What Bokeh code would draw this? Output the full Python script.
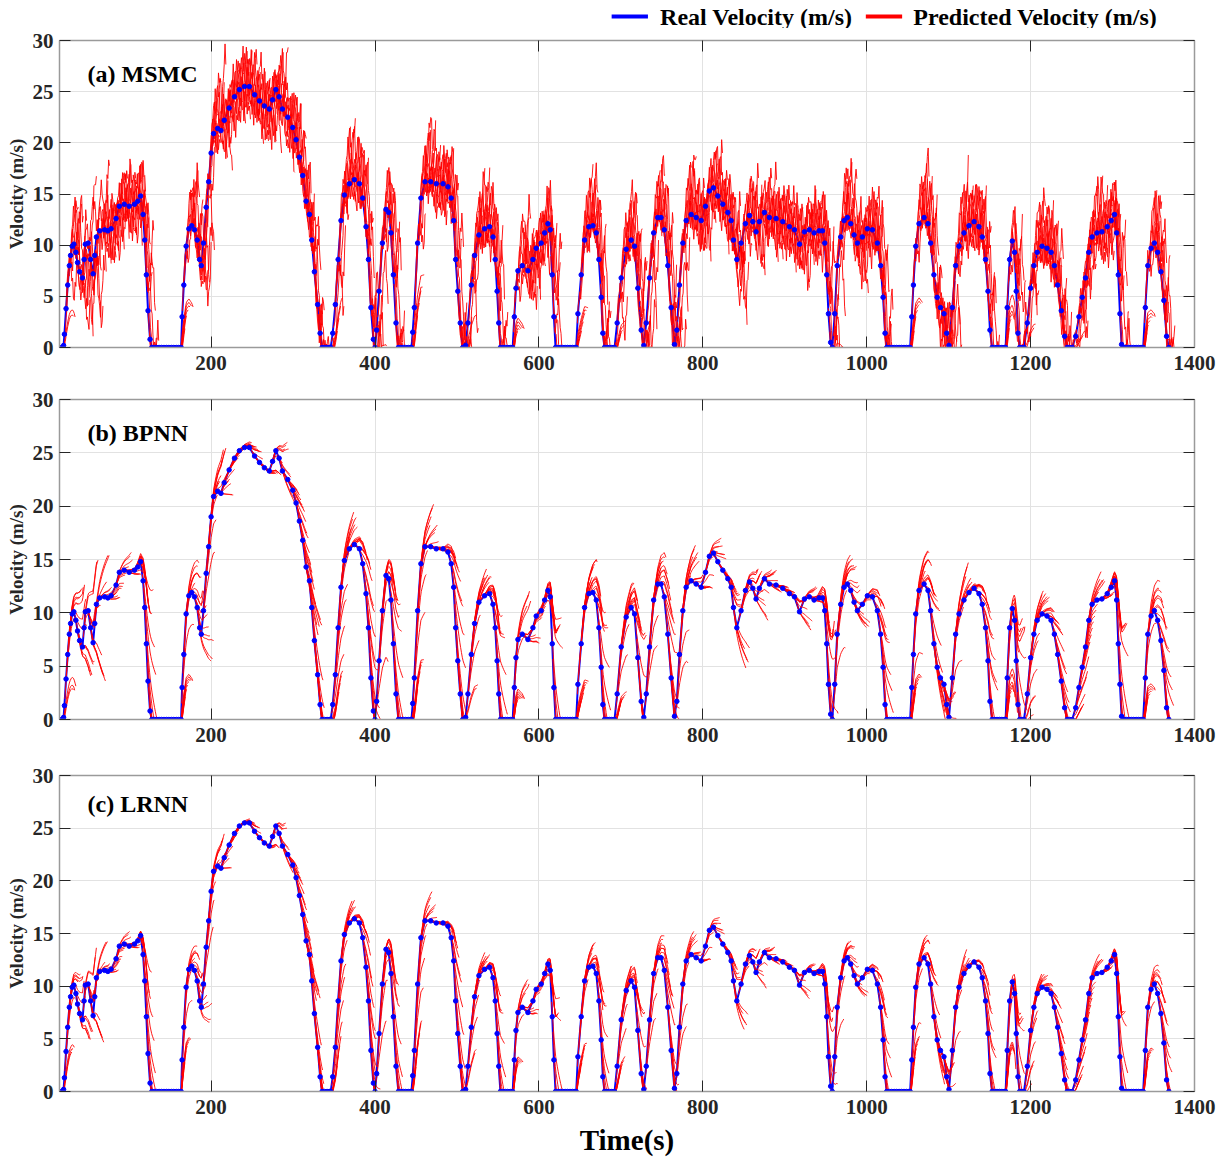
import numpy as np
from bokeh.plotting import figure
from bokeh.layouts import column
from bokeh.models import Range1d, LinearAxis, Label, FixedTicker
from bokeh.core.properties import value
from bokeh.embed import file_html
from bokeh.resources import INLINE

# ---------------- data ----------------
time_s = [15, 18, 20, 21, 23, 25, 27, 28.5, 30.5, 32.5, 35, 37, 39.5, 43, 45, 46.5, 50, 53, 56, 58,
          60, 64, 70, 74, 78, 84, 88, 94, 100, 106.5, 110.5, 114, 117, 119, 121, 123, 125.5, 127.6,
          130.5, 133.5, 136.5, 139.5, 142.5, 145.5, 148.5, 151.5, 154.5, 157.5, 160.5, 163.4,
          164.6, 166.7, 169.5, 172.8, 176.4, 179.7, 183, 186, 188, 190.7, 194, 197, 200, 203, 208,
          212, 216, 222, 228.5, 234.5, 240.7, 246.7, 253, 259, 265, 271, 275, 279, 283, 287, 293.5,
          299.6, 303.7, 307.7, 311.8, 315.9, 320, 322.8, 326, 330, 333, 335.4, 338.5, 341.5, 344.5, 346,
          348.4, 351.6, 355, 358.5, 362.6, 368.7, 374.8, 381, 385, 389, 392, 395, 398, 400, 402, 405,
          409, 413.4, 416.7, 419.5, 422.4, 425.6, 428.5, 431.5, 434.5, 437.5, 440.5, 443.5, 444.5,
          446, 448, 452, 456, 461, 468, 474.8, 483, 489, 493, 496, 498.4, 501, 504, 507, 510.6,
          513.4, 517.5, 521.5, 526.8, 533.7, 539.8, 544, 546.7, 549, 551, 553, 556, 559, 562, 565,
          568, 570, 572, 574.4, 579.7, 586.6, 592.7, 596.7, 602.8, 607, 611, 613.8, 616.3, 618.3,
          620.3, 623, 626, 629, 632, 635, 638, 641, 644, 645.5, 647.6, 651.6, 655.7, 661, 665.9,
          670, 673.2, 676, 678, 680, 683, 686, 689, 692.3, 695.5, 700.4, 706.5, 712.6, 716.7, 720.7,
          724.8, 728, 731, 735, 740, 745, 749, 753, 757.3, 761.4, 765.4, 768.3, 771.5, 775.6, 779.7,
          785.8, 791.9, 798, 803.3, 808, 813, 818.3, 824.4, 830.5, 834.6, 837.4, 841.5, 846.7, 852,
          857, 861, 865, 869, 875.2, 881.3, 889.4, 897.6, 905.7, 911.8, 918, 924, 930, 935.8, 941.9,
          946, 948.8, 951.2, 953.3, 956, 958, 961, 964, 968.3, 972.4, 976.4, 980.5, 984.6, 988.6,
          994.7, 1000.8, 1007, 1013, 1017, 1020, 1022.4, 1024.4, 1027.5, 1030.5, 1033.5, 1036.5,
          1039.5, 1042.5, 1045.5, 1048.5, 1051.5, 1053, 1055, 1057, 1059.8, 1063.8, 1070, 1074.8,
          1078, 1082, 1086, 1090, 1094.3, 1097.6, 1100.4, 1104.5, 1108.5, 1112.6, 1118.7, 1124.8,
          1131, 1137, 1141, 1145, 1148, 1150.4, 1153, 1156, 1159, 1162, 1165, 1168, 1169.5, 1171.5,
          1174.4, 1177.6, 1180.5, 1182.5, 1184.6, 1186.6, 1189.5, 1192, 1196, 1200, 1204, 1208,
          1214, 1220, 1225, 1229, 1233, 1237.4, 1241.5, 1244.7, 1247.7, 1250.8, 1255, 1259, 1263,
          1267, 1271, 1275, 1281, 1287, 1293.5, 1298.4, 1302.4, 1305, 1307, 1309, 1311, 1313.8,
          1316.8, 1319.8, 1322.8, 1325.8, 1328.8, 1331.8, 1334.8, 1337.4, 1340, 1343, 1347, 1351,
          1355, 1359, 1362.6, 1365.9, 1368.7]

real_velocity = [0, 0, 0.2, 1.3, 3.8, 6.1, 8.0, 9.0, 9.9, 10.1, 9.3, 8.3, 7.4, 6.8, 8.6, 10.1, 10.2, 8.6, 7.2, 9.0,
                 10.8, 11.4, 11.5, 11.4, 11.6, 12.6, 13.8, 14.0, 13.8, 14.0, 14.3, 14.8, 13.0, 10.5, 7.1, 3.6, 0.8, 0,
                 0, 0, 0, 0, 0, 0, 0, 0, 0, 0, 0, 0,
                 3.0, 6.1, 9.9, 11.6, 11.9, 11.5, 10.5, 8.6, 8.0, 10.2, 13.7, 16.2, 19.0, 20.9, 21.4,
                 21.2, 22.2, 23.4, 24.5, 25.2, 25.5, 25.5, 24.7, 24.1, 23.6, 23.3, 24.2, 25.2, 24.5, 23.3, 22.5,
                 21.5, 20.3, 18.6, 16.8, 14.3, 13.0, 10.5, 7.4, 4.2, 1.4, 0, 0, 0, 0, 0,
                 1.4, 4.2, 8.6, 12.4, 14.9, 16.0, 16.4, 16.0, 14.6, 11.8, 8.6, 3.9, 0.8, 0, 1.7, 5.5,
                 10.2, 13.5, 13.2, 11.2, 7.1, 2.4, 0, 0, 0, 0, 0, 0, 0,
                 1.5, 3.9, 10.2, 14.6, 16.2, 16.2, 16.0, 16.0, 15.7, 14.6, 12.4, 8.6, 5.5, 2.4, 0, 0.2,
                 2.4, 6.1, 9.0, 11.0, 11.6, 11.8, 10.8, 8.6, 5.5, 2.4, 0, 0, 0, 0, 0,
                 0, 3.0, 5.8, 7.5, 8.0, 7.5, 8.6, 9.7, 10.2, 11.2, 12.1, 11.5, 7.1, 3.0,
                 0, 0, 0, 0, 0, 0, 0, 0, 0, 0, 3.3, 7.1, 10.5, 11.8, 11.9,
                 11.2, 8.6, 4.9, 1.4, 0, 0, 0, 0, 0, 2.4, 6.8, 9.6, 10.5, 9.9, 5.8,
                 1.7, 0.2, 2.4, 6.8, 11.2, 12.7, 12.7, 11.5, 8.0, 3.9, 0.3, 1.7, 6.1, 10.2, 12.4,
                 13.0, 12.7, 12.4, 13.8, 15.3, 15.6, 14.8, 14.0, 13.2, 12.4, 10.5, 8.6, 10.2, 12.1,
                 12.9, 12.3, 11.3, 12.3, 13.2, 12.7, 12.6, 12.3, 11.8, 11.5, 10.1, 11.3, 11.5, 11.2, 11.4,
                 11.4, 10.2, 7.1, 3.3, 0.5, 0, 3.3, 8.0, 10.8, 12.4, 12.7, 12.1, 11.0, 10.2,
                 10.8, 11.6, 11.5, 10.2, 8.0, 4.9, 1.4, 0, 0, 0, 0, 0,
                 0, 0, 0, 0, 0, 0, 3.0, 6.1, 9.9, 12.1, 12.7, 12.1,
                 10.2, 7.1, 4.9, 3.9, 3.3, 1.4, 0.2, 3.9, 8.0, 9.9, 11.2, 11.9,
                 12.3, 11.8, 10.8, 8.6, 5.5, 1.7, 0, 0, 0, 0, 0, 0, 0, 3.9,
                 8.6, 10.4, 9.3, 5.5, 1.4, 0, 0, 0, 2.4, 5.8, 8.0, 9.3,
                 9.9, 9.7, 9.3, 8.0, 6.1, 3.6, 1.1, 0, 0, 0, 1.1, 3.0, 4.9,
                 6.8, 9.3, 10.8, 11.2, 11.3, 11.8, 12.4, 13.0, 11.2, 7.1, 3.3, 0.3, 0,
                 0, 0, 0, 0, 0, 0, 0, 0, 3.9, 8.0, 9.7, 10.2,
                 9.3, 7.4, 4.6, 1.1, 0]

x_ticks = [200, 400, 600, 800, 1000, 1200, 1400]
y_ticks = [0, 5, 10, 15, 20, 25, 30]
panel_titles = ["(a) MSMC", "(b) BPNN", "(c) LRNN"]
legend_labels = ["Real Velocity (m/s)", "Predicted Velocity (m/s)"]
legend_colors = ["#0000ff", "#ff0000"]
y_label = "Velocity (m/s)"
x_label = "Time(s)"

# prediction model settings per method
method_settings = [
    dict(step=2.0, horizon=15, w_up=0.45, w_dn=0.6, gain=0.6, emax=0.3, up_max=1.0, up_t0=6.0,
         dn_max=0.8, dn_t0=12.0, wobble=0.85),
    dict(step=1.5, horizon=15, w_up=0.5, w_dn=0.8, gain=0.5, emax=0.3, up_max=1.0, up_t0=6.0,
         dn_max=1.0, dn_t0=15.0, wobble=0.0),
    dict(step=1.5, horizon=13, w_up=0.45, w_dn=0.75, gain=0.4, emax=0.22, up_max=0.9, up_t0=5.0,
         dn_max=0.9, dn_t0=13.0, wobble=0.0),
]

T = np.array(time_s, dtype=float)
V = np.array(real_velocity, dtype=float)


def real_at(x):
    return np.interp(x, T, V)


def predicted_segments(step, horizon, w_up, w_dn, gain, emax, up_max, up_t0, dn_max, dn_t0, wobble):
    xs, ys = [], []
    starts = np.arange(T[0] + 2, T[-1], step)
    for m, s in enumerate(starts):
        tau = np.arange(0, horizon + 0.01, 1.0)
        tt = s + tau
        keep = tt <= T[-1] + 10
        tau, tt = tau[keep], tt[keep]
        v0 = real_at(s)
        sb = (v0 - real_at(s - 2)) / 2.0
        sf = (real_at(s + horizon) - v0) / horizon
        e = np.clip(gain * (sb - sf), -emax, emax)
        follow = real_at(tt) + e * tau
        if sb >= 0:
            trend = v0 + min(sb, up_max) * up_t0 * (1 - np.exp(-tau / up_t0))
            w = w_up
        else:
            trend = v0 + max(sb, -dn_max) * dn_t0 * (1 - np.exp(-tau / dn_t0))
            w = w_dn
        pred = (1 - w) * follow + w * trend
        if wobble and v0 > 0.5:
            pred = pred + wobble * (np.sin(0.55 * tau + 2.3 * m) + 0.3 * np.sin(2.3 * tau + 1.7 * m)) * np.sqrt(tau)
        pred = np.clip(pred, 0, None)
        xs.append(list(tt))
        ys.append(list(pred))
    return xs, ys


FONT = "Liberation Serif"
TXT = "#262626"
W = 1219
FRAME_L = 59
FRAME_W = 1135
heights = [352, 375, 403]
tops = [12, 19, 20]
bottoms = [33, 36, 62]
frame_h = [307, 320, 321]

# legend strip above panel (a): pixel-unit canvas
LG_H = 28
lg = figure(width=W, height=LG_H, x_range=Range1d(0, W), y_range=Range1d(0, LG_H),
            output_backend="svg", toolbar_location=None, x_axis_type=None, y_axis_type=None,
            min_border_left=0, min_border_right=0, min_border_top=0, min_border_bottom=0)
lg.outline_line_color = None
lg.grid.visible = False
legend_glyph_x = [(593, 632), (866, 905)]
legend_text_x = [645, 917]
for (x0, x1), tx, lab, col in zip(legend_glyph_x, legend_text_x, legend_labels, legend_colors):
    lg.line([x0, x1], [LG_H - 16, LG_H - 16], line_color=col, line_width=4)
    lg.text(x=[tx], y=[LG_H - 16], text=[lab], text_font=value(FONT), text_font_style="bold",
            text_font_size="24px", text_color="black", text_baseline="middle", text_align="left")

panels = [lg]
for k in range(3):
    p = figure(width=W, height=heights[k], x_range=Range1d(15, 1400), y_range=Range1d(0, 30),
               output_backend="svg", toolbar_location=None,
               min_border_left=FRAME_L, min_border_right=W - FRAME_L - FRAME_W,
               min_border_top=tops[k], min_border_bottom=bottoms[k])
    p.outline_line_color = None
    p.background_fill_color = "white"

    bottom_ax = p.below[0]
    left_ax = p.left[0]
    bottom_ax.ticker = FixedTicker(ticks=x_ticks)
    left_ax.ticker = FixedTicker(ticks=y_ticks)
    p.xgrid.ticker = FixedTicker(ticks=x_ticks)
    p.ygrid.ticker = FixedTicker(ticks=y_ticks)
    p.grid.grid_line_color = "#e2e2e2"
    p.grid.grid_line_width = 1

    top_ax = LinearAxis(ticker=FixedTicker(ticks=x_ticks))
    right_ax = LinearAxis(ticker=FixedTicker(ticks=y_ticks))
    p.add_layout(top_ax, "above")
    p.add_layout(right_ax, "right")

    for ax in [bottom_ax, left_ax, top_ax, right_ax]:
        ax.major_tick_in = 11
        ax.major_tick_out = 0
        ax.minor_tick_line_color = None
        ax.major_tick_line_color = TXT
        ax.axis_line_color = "#9a9a9a"
        ax.axis_line_width = 1.5
        ax.major_label_text_font = FONT
        ax.major_label_text_font_style = "bold"
    for ax in [bottom_ax, left_ax]:
        ax.major_label_text_font_size = "21px"
        ax.major_label_text_color = TXT
    for ax in [top_ax, right_ax]:
        ax.major_label_text_color = None
        ax.major_label_text_font_size = "1px"
        ax.major_label_standoff = 0

    bottom_ax.major_label_standoff = 8
    left_ax.major_label_standoff = 6
    left_ax.axis_label = y_label
    left_ax.axis_label_text_font = FONT
    left_ax.axis_label_text_font_style = "bold"
    left_ax.axis_label_text_font_size = "19px"
    left_ax.axis_label_text_color = TXT
    left_ax.axis_label_standoff = 3

    if k == 2:
        bottom_ax.axis_label = x_label
        bottom_ax.axis_label_text_font = FONT
        bottom_ax.axis_label_text_font_style = "bold"
        bottom_ax.axis_label_text_font_size = "29px"
        bottom_ax.axis_label_text_color = "black"
        bottom_ax.axis_label_standoff = 7

    p.line(T, V, line_color="#0000ff", line_width=2)
    xs, ys = predicted_segments(**method_settings[k])
    p.multi_line(xs, ys, line_color="#ff0000", line_width=0.9)
    p.scatter(T, V, size=4.5, fill_color="#0000ff", line_color="#0000ff", marker="circle")

    p.add_layout(Label(x=28, y=frame_h[k] - 33, x_units="screen", y_units="screen",
                       text=panel_titles[k], text_font=FONT, text_font_style="bold",
                       text_font_size="24px", text_color="black", text_baseline="middle"))
    panels.append(p)

layout = column(*panels)
open("out.html", "w").write(file_html(layout, INLINE))
